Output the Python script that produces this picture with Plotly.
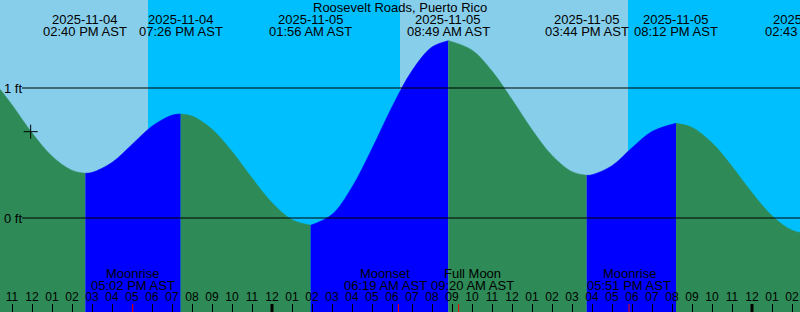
import plotly.graph_objects as go
from datetime import datetime

station = "Roosevelt Roads, Puerto Rico"

# Tide curve (time, height in ft)
tide_times = [
    "2025-11-04 10:24", "2025-11-04 11:00", "2025-11-04 12:00", "2025-11-04 13:00",
    "2025-11-04 14:00", "2025-11-04 14:40", "2025-11-04 15:00", "2025-11-04 16:00",
    "2025-11-04 17:00", "2025-11-04 18:00", "2025-11-04 19:00", "2025-11-04 19:26",
    "2025-11-04 20:00", "2025-11-04 21:00", "2025-11-04 22:00", "2025-11-04 23:00",
    "2025-11-05 00:00", "2025-11-05 01:00", "2025-11-05 01:56", "2025-11-05 03:00",
    "2025-11-05 04:00", "2025-11-05 05:00", "2025-11-05 06:00", "2025-11-05 07:00",
    "2025-11-05 08:00", "2025-11-05 08:49", "2025-11-05 10:00", "2025-11-05 11:00",
    "2025-11-05 12:00", "2025-11-05 13:00", "2025-11-05 14:00", "2025-11-05 15:00",
    "2025-11-05 15:44", "2025-11-05 16:00", "2025-11-05 17:00", "2025-11-05 18:00",
    "2025-11-05 19:00", "2025-11-05 20:12", "2025-11-05 21:00", "2025-11-05 22:00",
    "2025-11-05 23:00", "2025-11-06 00:00", "2025-11-06 01:00", "2025-11-06 02:00",
    "2025-11-06 02:43",
]
tide_ft = [
    0.99, 0.870, 0.655, 0.475,
    0.366, 0.344, 0.350, 0.427,
    0.565, 0.706, 0.791, 0.800,
    0.784, 0.683, 0.511, 0.307,
    0.118, -0.013, -0.056, 0.027,
    0.237, 0.533, 0.854, 1.133,
    1.315, 1.364, 1.291, 1.130,
    0.911, 0.679, 0.481, 0.356,
    0.328, 0.332, 0.402, 0.540,
    0.665, 0.728, 0.697, 0.578,
    0.397, 0.195, 0.017, -0.095,
    -0.120,
]

# High / low tide events (header labels)
event_times = ["2025-11-04 14:40", "2025-11-04 19:26", "2025-11-05 01:56", "2025-11-05 08:49",
               "2025-11-05 15:44", "2025-11-05 20:12", "2025-11-06 02:43"]
event_dates = ["2025-11-04", "2025-11-04", "2025-11-05", "2025-11-05",
               "2025-11-05", "2025-11-05", "2025-11-06"]
event_clock = ["02:40 PM AST", "07:26 PM AST", "01:56 AM AST", "08:49 AM AST",
               "03:44 PM AST", "08:12 PM AST", "02:43 AM AST"]

# Sun events (day / night background)
sun_times = ["2025-11-04 17:48", "2025-11-05 06:24", "2025-11-05 17:48"]
sun_kind = ["set", "rise", "set"]

# Moon events
moon_times = ["2025-11-04 17:02", "2025-11-05 06:19", "2025-11-05 09:20", "2025-11-05 17:51"]
moon_names = ["Moonrise", "Moonset", "Full Moon", "Moonrise"]
moon_clock = ["05:02 PM AST", "06:19 AM AST", "09:20 AM AST", "05:51 PM AST"]

midnights = ["2025-11-05 00:00", "2025-11-06 00:00"]
view_start, view_end = "2025-11-04 10:24", "2025-11-06 02:24"
now_time, now_ft = "2025-11-04 11:56", 0.664
datum_levels = [1, 0]
datum_labels = ["1 ft", "0 ft"]

DAY, NIGHT = "#87CEEB", "#00BFFF"
FLOOD, EBB = "#0000FF", "#2E8B57"
FONT = "Liberation Sans, Arial, sans-serif"
Y_MIN, Y_MAX = -0.7231, 1.6769
H = 312.0

_fmt = "%Y-%m-%d %H:%M"
_t0 = datetime.strptime(view_start, _fmt)
_t1 = datetime.strptime(view_end, _fmt)


def to_paper(t):
    """Fraction of the x range (so labels past the edge still draw)."""
    return (datetime.strptime(t, _fmt) - _t0).total_seconds() / (_t1 - _t0).total_seconds()


fig = go.Figure()

# tide fill segments between extrema
ext_idx = [tide_times.index(t) for t in event_times if t in tide_times]
bounds = sorted(set([0] + ext_idx + [len(tide_times) - 1]))
for a, b in zip(bounds[:-1], bounds[1:]):
    xs = tide_times[a:b + 1]
    ys = tide_ft[a:b + 1]
    color = FLOOD if tide_ft[b] > tide_ft[a] else EBB
    fig.add_trace(go.Scatter(x=[xs[0], xs[-1]], y=[Y_MIN - 0.2] * 2, mode="lines",
                             line=dict(width=0), hoverinfo="skip", showlegend=False))
    fig.add_trace(go.Scatter(x=xs, y=ys, mode="lines", fill="tonexty", fillcolor=color,
                             line=dict(width=0.6, color=color, shape="spline", smoothing=1),
                             hoverinfo="skip", showlegend=False))

# current-time mark
fig.add_trace(go.Scatter(x=[now_time], y=[now_ft], mode="markers",
                         marker=dict(symbol="cross-thin", size=10,
                                     line=dict(width=1, color="black")),
                         hoverinfo="skip", showlegend=False))

shapes = []
# day / night background
edges = [view_start] + sun_times + [view_end]
kinds = sun_kind + ["rise" if sun_kind[-1] == "set" else "set"]
for i in range(len(edges) - 1):
    col = DAY if kinds[i] == "set" else NIGHT
    shapes.append(dict(type="rect", xref="x", yref="paper", x0=edges[i], x1=edges[i + 1],
                       y0=0, y1=1, fillcolor=col, line=dict(width=0), layer="below"))

# datum lines
for lv in datum_levels:
    shapes.append(dict(type="line", xref="paper", yref="y", x0=22 / 800, x1=1, y0=lv, y1=lv,
                       line=dict(color="black", width=1.2), layer="above"))

# midnight (thick) and moon (red) ticks
for m in midnights:
    shapes.append(dict(type="line", xref="x", yref="paper", x0=m, x1=m, y0=0, y1=8 / H,
                       line=dict(color="black", width=3), layer="above"))
for m in moon_times:
    shapes.append(dict(type="line", xref="x", yref="paper", x0=m, x1=m, y0=0, y1=8 / H,
                       line=dict(color="#FF0000", width=1), layer="above"))

ann = []
ann.append(dict(text=station, x=0.5, xref="paper", xanchor="center", y=1 - 7.5 / H, yref="paper",
                showarrow=False, yanchor="middle", font=dict(size=13, color="black", family=FONT)))
for t, d, c in zip(event_times, event_dates, event_clock):
    px = to_paper(t)
    ann.append(dict(text=d, x=px, xref="paper", xanchor="center", y=1 - 19.5 / H, yref="paper",
                    showarrow=False, yanchor="middle", font=dict(size=13, color="black", family=FONT)))
    ann.append(dict(text=c, x=px, xref="paper", xanchor="center", y=1 - 31.5 / H, yref="paper",
                    showarrow=False, yanchor="middle", font=dict(size=13, color="black", family=FONT)))
for lv, lab in zip(datum_levels, datum_labels):
    ann.append(dict(text=lab, x=2 / 800, xref="paper", y=lv, yref="y", showarrow=False,
                    xanchor="left", yanchor="middle", font=dict(size=13, color="black", family=FONT)))
moon_shift = {"Moonset": -13, "Full Moon": 14}
for t, n, c in zip(moon_times, moon_names, moon_clock):
    sh = moon_shift.get(n, 0)
    ann.append(dict(text=n, x=t, xref="x", xanchor="center", xshift=sh, y=(H - 273) / H,
                    yref="paper", showarrow=False, yanchor="middle",
                    font=dict(size=13, color="black", family=FONT)))
    ann.append(dict(text=c, x=t, xref="x", xanchor="center", xshift=sh, y=(H - 285.5) / H,
                    yref="paper", showarrow=False, yanchor="middle",
                    font=dict(size=13, color="black", family=FONT)))

fig.update_layout(
    width=800, height=312, margin=dict(l=0, r=0, t=0, b=0),
    paper_bgcolor=DAY, plot_bgcolor=DAY,
    shapes=shapes, annotations=ann, showlegend=False,
    xaxis=dict(type="date", range=[view_start, view_end], tick0="2025-11-04 00:00",
               dtick=3600000, tickformat="%I", ticks="inside", ticklen=8, tickwidth=1,
               tickcolor="black", ticklabelposition="inside", ticklabeloverflow="allow",
               tickfont=dict(size=12, color="black", family=FONT),
               showgrid=False, zeroline=False, showline=False, layer="above traces",
               fixedrange=True),
    yaxis=dict(range=[Y_MIN, Y_MAX], visible=False, fixedrange=True),
)

fig.write_html("out.html")
